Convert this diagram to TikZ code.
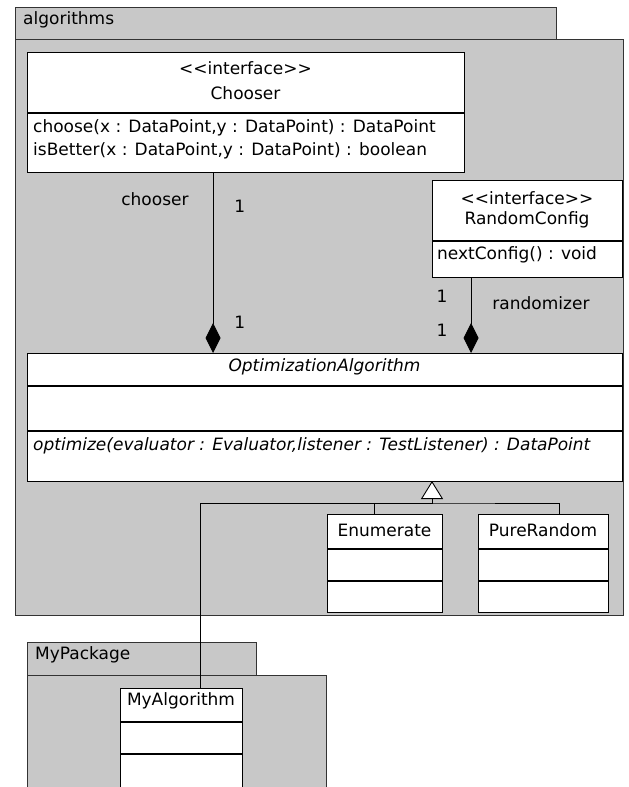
\documentclass[tikz,border=0pt]{standalone}
\usepackage{fontspec}
\setmainfont{DejaVu Sans}
\usetikzlibrary{positioning,calc,arrows.meta}
\definecolor{pkgfill}{HTML}{C8C8C8}
\newcommand\umlfont{\fontsize{17}{20}\selectfont}

\begin{document}
\begin{tikzpicture}[x=1pt, y=1pt,
  pkg/.style={draw=black!80, fill=pkgfill, line width=1pt, anchor=north west, inner sep=0pt, outer sep=0pt},
  classbox/.style={draw=black, fill=white, line width=1pt, anchor=north west, inner sep=0pt, outer sep=0pt},
  divider/.style={line width=2pt},
  txt/.style={inner sep=0pt, font=\umlfont},
  lefttxt/.style={txt, anchor=west},
  assoc/.style={draw=black, line width=0.9pt},
  compos/.style={assoc, -{Diamond[length=30pt, width=15pt]}},
  gener/.style={assoc, -{Triangle[open, length=18pt, width=22pt, fill=white]}}
]
\useasboundingbox (0,0) rectangle (629,-787);
\clip (0,0) rectangle (629,-787);

% packages
\node[pkg, minimum width=608pt, minimum height=576pt] (algbody) at (15,-39) {};
\node[pkg, minimum width=541pt, minimum height=32pt] (algtab) at (15,-7) {};
\node[lefttxt] (algname) at ($(algtab.north west)+(8,-13)$) {algorithms};

\node[pkg, minimum width=299pt, minimum height=130pt] (mybody) at (27,-675) {};
\node[pkg, minimum width=229pt, minimum height=33pt] (mytab) at (27,-642) {};
\node[lefttxt] (myname) at ($(mytab.north west)+(8,-13)$) {MyPackage};

% Chooser
\node[classbox, minimum width=437pt, minimum height=120pt] (cho) at (27,-52) {};
\draw[divider] ([yshift=-61pt]cho.north west) -- ([yshift=-61pt]cho.north east);
\node[txt] (cho-st) at ($(cho.north)+(0,-16)$) {<{}<interface>{}>};
\node[txt] (cho-name) at ($(cho.north)+(0,-41)$) {Chooser};
\node[lefttxt] (cho-m1) at ($(cho.north west)+(6,-76)$) {choose(x : DataPoint,y : DataPoint) : DataPoint};
\node[lefttxt] (cho-m2) at ($(cho.north west)+(6,-99)$) {isBetter(x : DataPoint,y : DataPoint) : boolean};

% RandomConfig
\node[classbox, minimum width=190pt, minimum height=97pt] (rnd) at (432,-180) {};
\draw[divider] ([yshift=-61pt]rnd.north west) -- ([yshift=-61pt]rnd.north east);
\node[txt] (rnd-st) at ($(rnd.north)+(0,-18)$) {<{}<interface>{}>};
\node[txt] (rnd-name) at ($(rnd.north)+(0,-40)$) {RandomConfig};
\node[lefttxt] (rnd-m1) at ($(rnd.north west)+(5,-75)$) {nextConfig() : void};

% OptimizationAlgorithm
\node[classbox, minimum width=595pt, minimum height=128pt] (oa) at (27,-353) {};
\draw[divider] ([yshift=-33pt]oa.north west) -- ([yshift=-33pt]oa.north east);
\draw[divider] ([yshift=-78pt]oa.north west) -- ([yshift=-78pt]oa.north east);
\node[txt, font=\umlfont\itshape] (oa-name) at ($(oa.north)+(0,-14)$) {OptimizationAlgorithm};
\node[lefttxt, font=\umlfont\itshape] (oa-m1) at ($(oa.north west)+(6,-93)$) {optimize(evaluator : Evaluator,listener : TestListener) : DataPoint};

% Enumerate, PureRandom
\node[classbox, minimum width=115pt, minimum height=98pt] (enum) at (327,-514) {};
\node[classbox, minimum width=130pt, minimum height=98pt] (pr) at (478,-514) {};
\foreach \cls in {enum, pr} {
  \draw[divider] ([yshift=-35pt]\cls.north west) -- ([yshift=-35pt]\cls.north east);
  \draw[divider] ([yshift=-67pt]\cls.north west) -- ([yshift=-67pt]\cls.north east);
}
\node[txt] (enum-name) at ($(enum.north)+(0,-16)$) {Enumerate};
\node[txt] (pr-name) at ($(pr.north)+(0,-16)$) {PureRandom};

% MyAlgorithm
\node[classbox, minimum width=122pt, minimum height=120pt] (myalg) at (120,-688) {};
\draw[divider] ([yshift=-34pt]myalg.north west) -- ([yshift=-34pt]myalg.north east);
\draw[divider] ([yshift=-66pt]myalg.north west) -- ([yshift=-66pt]myalg.north east);
\node[txt] (myalg-name) at ($(myalg.north)+(0,-13)$) {MyAlgorithm};

% compositions
\draw[compos] ([xshift=-32.5pt]cho.south) coordinate (c1) -- (c1 |- oa.north)
  node[txt, pos=0.15, left=24pt] (lbl-chooser) {chooser}
  node[txt, pos=0.19, right=21pt] (lbl-c1) {1}
  node[txt, pos=0.83, right=21pt] (lbl-c2) {1};
\draw[compos] ([xshift=-56pt]rnd.south) coordinate (r1) -- (r1 |- oa.north)
  node[txt, pos=0.26, left=23pt] (lbl-r1) {1}
  node[txt, pos=0.34, right=21pt] (lbl-randomizer) {randomizer}
  node[txt, pos=0.70, left=23pt] (lbl-r2) {1};

% generalizations
\coordinate (gjoin) at ([xshift=107.5pt, yshift=-22pt]oa.south);
\draw[assoc] ([xshift=-10.5pt]enum.north) |- (gjoin) -| ([xshift=16pt]pr.north);
\draw[gener] ([xshift=19pt]myalg.north) |- (gjoin) -- ([xshift=107.5pt]oa.south);
\end{tikzpicture}
\end{document}
